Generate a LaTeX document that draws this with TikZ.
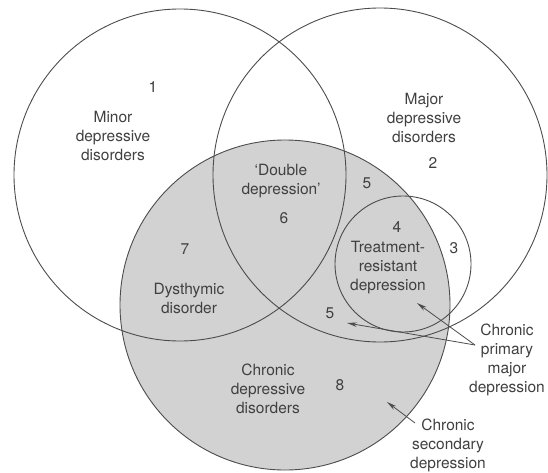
\documentclass[tikz,border=0pt]{standalone}
\usepackage{fontspec}
\setmainfont{TeX Gyre Heros}
\usetikzlibrary{arrows.meta}

\begin{document}
\begin{tikzpicture}
        [x=1pt, y=-1pt,
         every node/.style={text=black!75, align=center, inner sep=0pt, font=\fontsize{15.5}{19}\selectfont},
         ring/.style={draw=black!70, line width=0.9pt},
         pointer/.style={draw=black!70, line width=0.8pt, -{Stealth[length=10pt, width=4.5pt]}}]
        \useasboundingbox (0,0) rectangle (548,473);
        \coordinate (minor) at (180,175);
        \coordinate (major) at (380,175);
        \coordinate (chronic) at (285,305);
        \coordinate (resistant) at (403,264);

        \fill [gray!35] (chronic) circle (165pt);
        \draw [ring] (minor) circle (166pt);
        \draw [ring] (major) circle (167pt);
        \draw [ring] (chronic) circle (165pt);
        \draw [ring] (resistant) circle (68pt);

        \node (one) at (153,87) {1};
        \node (minorlbl) at (113,136) {Minor\\depressive\\disorders};
        \node (majorlbl) at (424,118) {Major\\depressive\\disorders};
        \node (two) at (433,163) {2};
        \node (doublelbl) at (281,181) {`Double\\depression'};
        \node (fiveup) at (367,183) {5};
        \node (six) at (284,218) {6};
        \node (four) at (397,227) {4};
        \node (three) at (454,248) {3};
        \node (trlbl) at (388,268) {Treatment-\\resistant\\depression};
        \node (seven) at (185,249) {7};
        \node (dyslbl) at (189,298) {Dysthymic\\disorder};
        \node (fivelow) at (330,313) {5};
        \node (cddlbl) at (268,389) {Chronic\\depressive\\disorders};
        \node (eight) at (340,385) {8};
        \node (cpmdlbl) at (507,360) {Chronic\\primary\\major\\depression};
        \node (csdlbl) at (448,445) {Chronic\\secondary\\depression};

        \coordinate (cpmd-from) at (475,345);
        \coordinate (tr-tip) at (417,303);
        \coordinate (five-tip) at (347,323);
        \coordinate (csd-from) at (415,423);
        \coordinate (csd-tip) at (387,402);

        \draw [pointer] (cpmd-from) -- (tr-tip);
        \draw [pointer] (cpmd-from) -- (five-tip);
        \draw [pointer] (csd-from) -- (csd-tip);
    \end{tikzpicture}
\end{document}
